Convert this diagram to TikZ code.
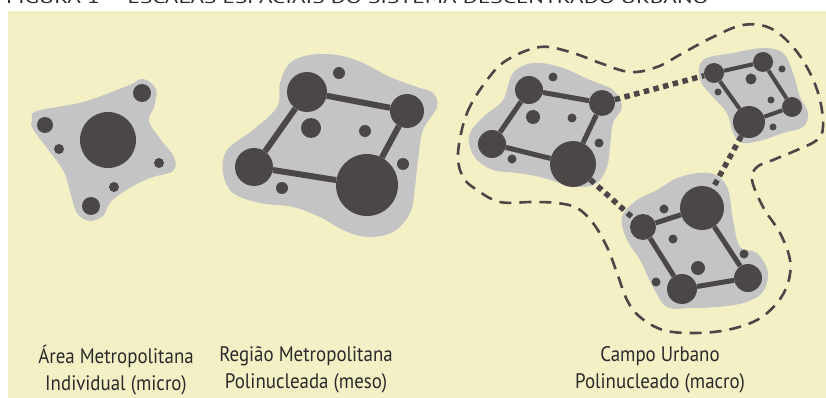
\documentclass[tikz,border=0pt]{standalone}
\usepackage{fontspec}
\setmainfont{PT Sans}[FakeStretch=0.9]
\newfontfamily\titfont{PT Sans}
\definecolor{bg}{HTML}{F4F0C6}
\definecolor{blobc}{HTML}{C4C4C4}
\definecolor{dk}{HTML}{4B4747}
\definecolor{txt}{HTML}{2A2A2A}
\tikzset{
  nuc/.style={circle,fill=dk,inner sep=0pt,minimum size=#1pt},
  blob/.style={fill=blobc},
  link/.style={draw=dk,line width=#1pt},
  dotlink/.style={draw=dk,line width=5.5pt,dash pattern=on 5.5pt off 4.5pt},
  region/.style={draw=dk,line width=2.6pt,dash pattern=on 12pt off 8pt},
  lab/.style={align=center,text=txt,font=\fontsize{21}{26.5}\selectfont,inner sep=0pt}
}
\begin{document}
\begin{tikzpicture}[x=1pt,y=-1pt]
\useasboundingbox (0,0) rectangle (826,398);
\clip (0,0) rectangle (826,398);
\fill[white] (0,0) rectangle (826,398);
\node[anchor=base west,inner sep=0pt,text=txt] (title) at (6,4)
  {\titfont\fontsize{16}{16}\selectfont\scalebox{1.45}[1]{FIGURA 1 – ESCALAS ESPACIAIS DO SISTEMA DESCENTRADO URBANO}};
\fill[bg] (8,11) rectangle (826,398);

% ---------- micro ----------
\fill[blob] plot[smooth cycle,tension=0.6] coordinates {
 (32,120) (37,111) (83,102) (127,86) (143,79) (156,89) (154,107) (149,121)
 (161,140) (174,157) (173,171) (150,178) (126,190) (110,203) (103,216) (89,221) (77,213)
 (71,195) (64,172) (50,152) (33,129)};
\node[nuc=56] (m0) at (108,140) {};
\node[nuc=18] (m1) at (142,93) {};
\node[nuc=16] (m2) at (45,125) {};
\node[nuc=10] (m3) at (59,149) {};
\node[nuc=10] (m4) at (159,163) {};
\node[nuc=10] (m5) at (114,187) {};
\node[nuc=18] (m6) at (91,206) {};

% ---------- meso ----------
\fill[blob] plot[smooth cycle,tension=0.6] coordinates {
 (310,55) (290,63) (280,83) (277,107) (253,130) (227,150) (223,173) (233,193)
 (260,203) (293,207) (320,217) (343,230) (367,237) (393,232) (410,213) (415,187)
 (418,160) (423,130) (437,107) (433,93) (417,87) (390,77) (363,63) (337,55)};
\node[nuc=40] (s1) at (307,92) {};
\node[nuc=34] (s2) at (407,111) {};
\node[nuc=38] (s3) at (254,167) {};
\node[nuc=62] (s4) at (367,185) {};
\node[nuc=12] (s5) at (339,73) {};
\node[nuc=20] (s6) at (311,128) {};
\node[nuc=12] (s7) at (365,131) {};
\node[nuc=12] (s8) at (403,164) {};
\node[nuc=12] (s9) at (282,188) {};
\draw[link=6] (s1) -- (s2);
\draw[link=6] (s2) -- (s4);
\draw[link=6] (s4) -- (s3);
\draw[link=6] (s3) -- (s1);

% ---------- macro ----------
\draw[region] plot[smooth cycle,tension=0.6] coordinates {
 (458,153) (467,113) (487,80) (507,60) (540,47) (570,52) (600,63) (630,72)
 (657,67) (683,53) (713,37) (743,25) (770,28) (793,47) (810,73) (820,100)
 (823,127) (817,140) (797,150) (773,160) (757,167) (752,180) (763,207)
 (780,233) (790,260) (788,283) (777,303) (757,320) (727,330) (693,333)
 (663,330) (640,317) (627,300) (617,273) (607,247) (593,223) (577,208)
 (557,203) (533,202) (500,202) (477,190) (463,177)};

\fill[blob] plot[smooth cycle,tension=0.6] coordinates {
 (470,133) (483,117) (503,100) (513,73) (533,63) (560,67) (590,80) (613,90)
 (622,107) (613,123) (610,147) (607,167) (597,183) (580,187) (560,183)
 (540,177) (517,173) (493,170) (477,160) (470,147)};
\fill[blob] plot[smooth cycle,tension=0.6] coordinates {
 (703,60) (733,53) (763,48) (783,53) (793,73) (800,97) (808,113) (803,127)
 (783,133) (763,140) (743,143) (733,133) (727,113) (713,97) (700,80)};
\fill[blob] plot[smooth cycle,tension=0.6] coordinates {
 (622,217) (637,200) (657,190) (680,177) (710,173) (727,187) (733,220)
 (740,247) (757,253) (768,273) (762,293) (743,303) (717,307) (690,308)
 (667,307) (653,287) (640,260) (627,240)};

% cluster A
\node[nuc=28] (a1) at (529,90) {};
\node[nuc=26] (a2) at (602,103) {};
\node[nuc=28] (a3) at (492,144) {};
\node[nuc=46] (a4) at (573,164) {};
\node[nuc=9] (a5) at (553,77) {};
\node[nuc=14] (a6) at (533,117) {};
\node[nuc=9] (a7) at (572,118) {};
\node[nuc=9] (a8) at (599,143) {};
\node[nuc=9] (a9) at (512,159) {};
\draw[link=5] (a1) -- (a2);
\draw[link=5] (a2) -- (a4);
\draw[link=5] (a4) -- (a3);
\draw[link=5] (a3) -- (a1);

% cluster B
\node[nuc=20] (b1) at (714,73) {};
\node[nuc=20] (b2) at (763,62) {};
\node[nuc=20] (b3) at (792,107) {};
\node[nuc=32] (b4) at (749,122) {};
\node[nuc=7] (b5) at (782,69) {};
\node[nuc=11] (b6) at (751,79) {};
\node[nuc=7] (b7) at (771,100) {};
\node[nuc=7] (b8) at (718,92) {};
\node[nuc=7] (b9) at (773,127) {};
\draw[link=4] (b1) -- (b2);
\draw[link=4] (b2) -- (b3);
\draw[link=4] (b3) -- (b4);
\draw[link=4] (b4) -- (b1);

% cluster C
\node[nuc=44] (c1) at (702,208) {};
\node[nuc=26] (c2) at (643,227) {};
\node[nuc=30] (c3) at (682,289) {};
\node[nuc=28] (c4) at (748,278) {};
\node[nuc=9] (c5) at (664,209) {};
\node[nuc=9] (c6) at (673,239) {};
\node[nuc=14] (c7) at (698,268) {};
\node[nuc=9] (c8) at (744,254) {};
\node[nuc=9] (c9) at (656,282) {};
\draw[link=5] (c2) -- (c1);
\draw[link=5] (c1) -- (c4);
\draw[link=5] (c4) -- (c3);
\draw[link=5] (c3) -- (c2);

% connections between clusters
\draw[dotlink] (a2) -- (b1);
\draw[dotlink] (b4) -- (c1);
\draw[dotlink] (a4) -- (c2);

% ---------- labels ----------
\node[lab] (l1) at (116,370) {Área Metropolitana\\Individual (micro)};
\node[lab] (l2) at (306,370) {Região Metropolitana\\Polinucleada (meso)};
\node[lab] (l3) at (660,370) {Campo Urbano\\Polinucleado (macro)};
\end{tikzpicture}
\end{document}
